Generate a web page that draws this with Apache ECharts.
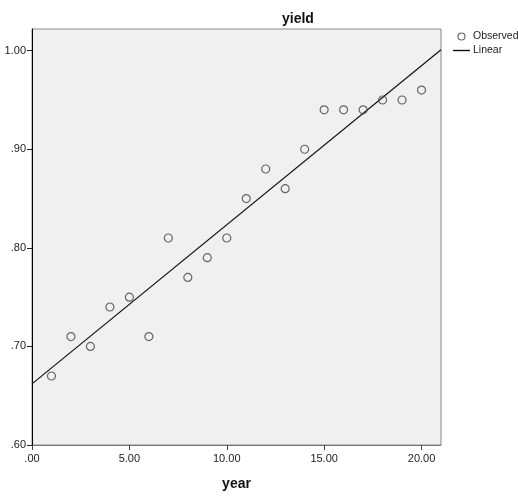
<!DOCTYPE html>
<html>
<head>
<meta charset="utf-8">
<script src="https://cdn.jsdelivr.net/npm/echarts@6/dist/echarts.min.js"></script>
<style>
html,body{margin:0;padding:0;background:#fff;}
#chart{width:518px;height:497px;}
</style>
</head>
<body>
<div id="chart"></div>
<script>
// Data
var years = [1,2,3,4,5,6,7,8,9,10,11,12,13,14,15,16,17,18,19,20];
var yields = [0.67,0.71,0.70,0.74,0.75,0.71,0.81,0.77,0.79,0.81,0.85,0.88,0.86,0.90,0.94,0.94,0.94,0.95,0.95,0.96];
// Linear fit endpoints (as drawn)
var fitX = [0, 21];
var fitY = [0.662, 1.001];
var xTicks = [0, 5, 10, 15, 20];
var yTicks = [0.6, 0.7, 0.8, 0.9, 1.0];

function fmt(v){ var s = Number(v).toFixed(2); return s.charAt(0)==='0' ? s.slice(1) : s; }

var chart = echarts.init(document.getElementById('chart'), null, {renderer:'canvas'});
var font = 'Liberation Sans, Arial, sans-serif';
chart.setOption({
  animation:false,
  backgroundColor:'#ffffff',
  textStyle:{fontFamily:font},
  title:{text:'yield', left:277, top:7, textStyle:{fontSize:14, fontWeight:'bold', color:'#111', fontFamily:font}},
  legend:{
    orient:'vertical', left:453, top:31, padding:0, itemWidth:17, itemHeight:7, itemGap:3,
    textStyle:{fontSize:10.5, color:'#222', fontFamily:font, overflow:'none', padding:[0,0,0,-2]},
    data:[
      {name:'Observed', icon:'circle', itemStyle:{color:'rgba(0,0,0,0)', borderColor:'#444', borderWidth:1.2}},
      {name:'Linear', icon:'path://M0,0L17,0L17,1.4L0,1.4Z', itemStyle:{color:'#111', borderWidth:0}}
    ]
  },
  grid:{left:32, top:29, width:409, height:416, show:true, backgroundColor:'#f0f0f0', borderColor:'#8a8a8a', borderWidth:1},
  xAxis:{
    type:'value', min:0, max:21,
    name:'year', nameLocation:'middle', nameGap:32,
    nameTextStyle:{fontSize:14, fontWeight:'bold', color:'#111', fontFamily:font},
    axisLine:{show:true, lineStyle:{color:'#777', width:1}},
    axisTick:{show:true, length:5, customValues:xTicks, lineStyle:{color:'#444'}},
    axisLabel:{customValues:xTicks, margin:8, fontSize:11, color:'#222', formatter:fmt},
    splitLine:{show:false}
  },
  yAxis:{
    type:'value', min:0.6, max:1.022,
    axisLine:{show:true, lineStyle:{color:'#000', width:1}},
    axisTick:{show:true, length:5, customValues:yTicks, lineStyle:{color:'#222'}},
    axisLabel:{customValues:yTicks, margin:6, fontSize:11, color:'#222', formatter:fmt},
    splitLine:{show:false}
  },
  series:[
    {name:'Observed', type:'scatter', symbol:'circle', symbolSize:8,
     itemStyle:{color:'rgba(0,0,0,0)', borderColor:'#444', borderWidth:1.2},
     data: years.map(function(x,i){return [x, yields[i]];}), z:3},
    {name:'Linear', type:'line', symbol:'none', showSymbol:false, color:'#111',
     itemStyle:{color:'#111'},
     lineStyle:{color:'#111', width:1.2},
     data: fitX.map(function(x,i){return [x, fitY[i]];}), z:2}
  ]
});
</script>
</body>
</html>
